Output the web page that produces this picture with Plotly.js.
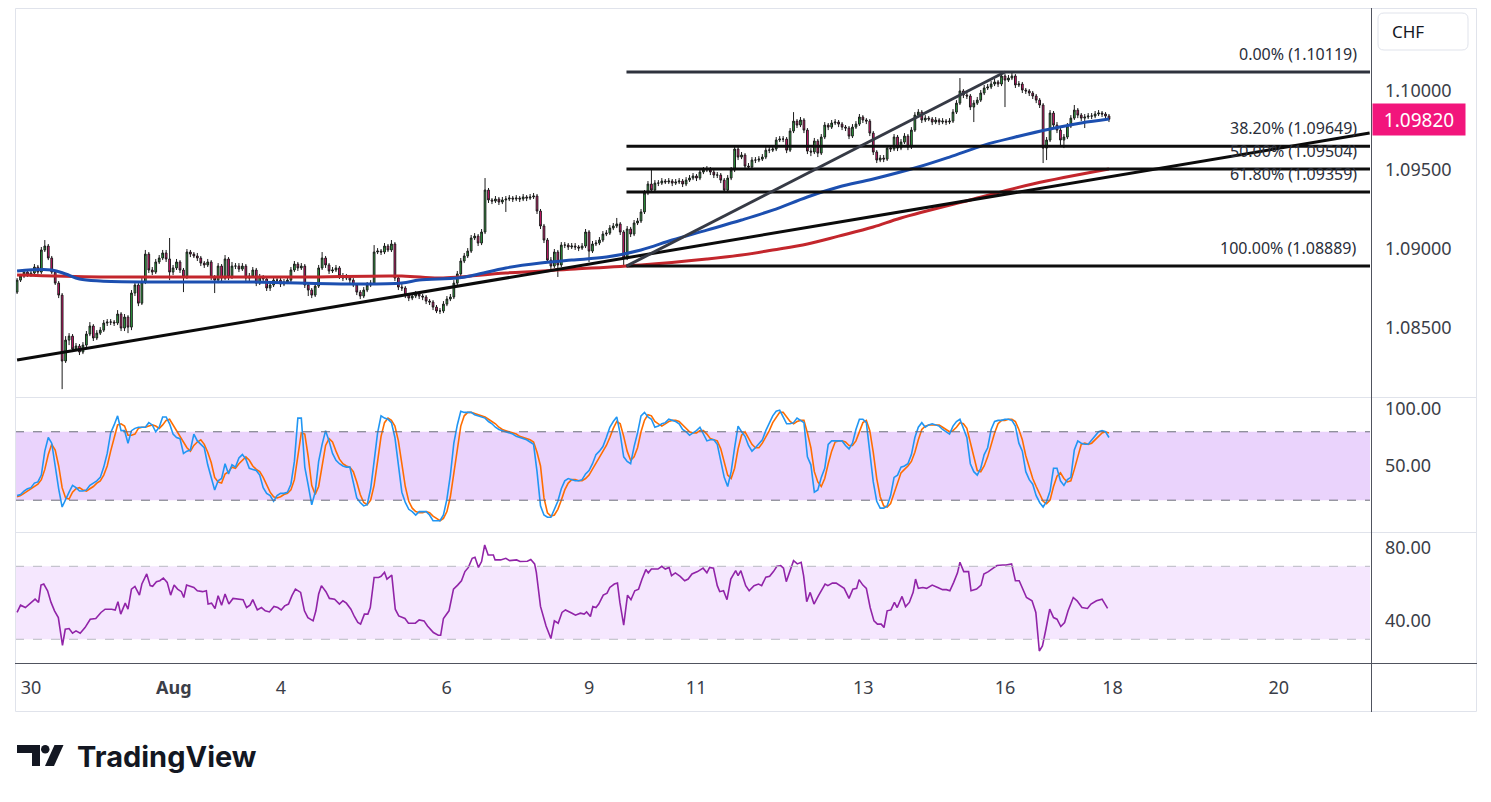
<!DOCTYPE html>
<html><head><meta charset="utf-8">
<script src="https://cdn.plot.ly/plotly-3.0.1.min.js"></script>
<style>html,body{margin:0;padding:0;background:#fff;}#chart{width:1491px;height:802px;}</style>
</head><body><div id="chart"></div>
<script>
// ---------- DATA (hourly candles, bar index 0..315) ----------
const openPx = [
1.08724,1.08800,1.08826,1.08851,1.08832,1.08845,1.08883,1.08851,1.08991,1.09016,
1.08940,1.08851,1.08781,1.08705,1.08287,1.08420,1.08445,1.08363,1.08382,1.08344,
1.08388,1.08458,1.08509,1.08433,1.08464,1.08483,1.08528,1.08534,1.08534,1.08528,
1.08585,1.08496,1.08566,1.08502,1.08718,1.08769,1.08654,1.08788,1.08965,1.08864,
1.08851,1.08915,1.08940,1.08972,1.08934,1.08851,1.08877,1.08915,1.08864,1.08820,
1.08978,1.08965,1.08953,1.08940,1.08908,1.08896,1.08915,1.08820,1.08800,1.08889,
1.08813,1.08934,1.08820,1.08889,1.08889,1.08870,1.08889,1.08813,1.08826,1.08864,
1.08781,1.08820,1.08807,1.08750,1.08769,1.08800,1.08800,1.08775,1.08788,1.08800,
1.08864,1.08902,1.08877,1.08889,1.08769,1.08737,1.08705,1.08762,1.08877,1.08940,
1.08896,1.08858,1.08864,1.08877,1.08826,1.08813,1.08820,1.08800,1.08769,1.08724,
1.08699,1.08737,1.08769,1.08781,1.08978,1.08984,1.08978,1.09016,1.08991,1.09029,
1.08813,1.08756,1.08750,1.08705,1.08686,1.08699,1.08712,1.08699,1.08693,1.08667,
1.08661,1.08629,1.08604,1.08604,1.08648,1.08680,1.08693,1.08781,1.08839,1.08921,
1.08953,1.08984,1.09067,1.09079,1.09035,1.09105,1.09371,1.09308,1.09301,1.09314,
1.09295,1.09308,1.09314,1.09320,1.09314,1.09320,1.09314,1.09327,1.09320,1.09327,
1.09333,1.09238,1.09143,1.09054,1.08927,1.08889,1.08978,1.08896,1.09022,1.09022,
1.09010,1.09016,1.09010,1.09003,1.09016,1.09105,1.08984,1.09029,1.09035,1.09054,
1.09092,1.09098,1.09130,1.09143,1.09156,1.09105,1.08940,1.09124,1.09092,1.09162,
1.09175,1.09232,1.09352,1.09409,1.09371,1.09415,1.09415,1.09428,1.09422,1.09428,
1.09415,1.09422,1.09428,1.09409,1.09434,1.09447,1.09460,1.09447,1.09485,1.09498,
1.09504,1.09485,1.09466,1.09466,1.09434,1.09371,1.09447,1.09498,1.09631,1.09580,
1.09593,1.09523,1.09517,1.09561,1.09561,1.09567,1.09580,1.09624,1.09624,1.09631,
1.09688,1.09694,1.09694,1.09624,1.09745,1.09808,1.09783,1.09815,1.09751,1.09618,
1.09612,1.09682,1.09605,1.09707,1.09783,1.09770,1.09796,1.09802,1.09789,1.09770,
1.09764,1.09713,1.09770,1.09789,1.09834,1.09815,1.09808,1.09732,1.09612,1.09561,
1.09574,1.09567,1.09637,1.09631,1.09707,1.09637,1.09675,1.09713,1.09644,1.09751,
1.09846,1.09865,1.09815,1.09827,1.09821,1.09802,1.09815,1.09802,1.09808,1.09802,
1.09808,1.09865,1.09922,1.09999,1.09973,1.09967,1.09897,1.09922,1.09941,1.09986,
1.10018,1.10024,1.10043,1.10056,1.10043,1.10094,1.10068,1.10081,1.10094,1.10037,
1.10043,1.10005,1.09999,1.09986,1.09967,1.09941,1.09910,1.09637,1.09688,1.09859,
1.09783,1.09751,1.09688,1.09707,1.09777,1.09827,1.09878,1.09846,1.09827,1.09834,
1.09840,1.09840,1.09853,1.09859,1.09853,1.09840];
const highPx = [
1.08813,1.08839,1.08864,1.08864,1.08858,1.08902,1.08896,1.09010,1.09054,1.09029,
1.08953,1.08864,1.08794,1.08718,1.08445,1.08464,1.08458,1.08401,1.08395,1.08407,
1.08477,1.08534,1.08521,1.08483,1.08502,1.08547,1.08553,1.08553,1.08547,1.08610,
1.08597,1.08585,1.08578,1.08737,1.08788,1.08781,1.08813,1.08991,1.08978,1.08883,
1.08934,1.08959,1.08991,1.08991,1.09067,1.08896,1.08934,1.08927,1.08877,1.08997,
1.08991,1.08978,1.08972,1.08953,1.08921,1.08934,1.08927,1.08832,1.08908,1.08902,
1.08959,1.08946,1.08915,1.08908,1.08908,1.08908,1.08902,1.08845,1.08883,1.08877,
1.08839,1.08832,1.08820,1.08788,1.08820,1.08820,1.08813,1.08807,1.08820,1.08883,
1.08921,1.08915,1.08908,1.08902,1.08781,1.08750,1.08781,1.08896,1.08978,1.08953,
1.08908,1.08883,1.08896,1.08889,1.08845,1.08839,1.08832,1.08813,1.08781,1.08737,
1.08756,1.08788,1.08800,1.09022,1.09003,1.08997,1.09035,1.09029,1.09054,1.09041,
1.08826,1.08775,1.08762,1.08718,1.08718,1.08731,1.08724,1.08712,1.08705,1.08680,
1.08673,1.08642,1.08623,1.08667,1.08699,1.08712,1.08800,1.08858,1.08940,1.08972,
1.09003,1.09086,1.09098,1.09092,1.09124,1.09447,1.09384,1.09320,1.09333,1.09327,
1.09327,1.09333,1.09339,1.09333,1.09339,1.09333,1.09346,1.09339,1.09346,1.09352,
1.09346,1.09251,1.09156,1.09067,1.08946,1.08997,1.08991,1.09041,1.09041,1.09035,
1.09035,1.09035,1.09022,1.09035,1.09124,1.09117,1.09048,1.09054,1.09073,1.09111,
1.09117,1.09149,1.09162,1.09194,1.09168,1.09117,1.09143,1.09137,1.09181,1.09194,
1.09251,1.09371,1.09428,1.09498,1.09434,1.09434,1.09447,1.09441,1.09447,1.09441,
1.09441,1.09447,1.09441,1.09453,1.09466,1.09479,1.09472,1.09504,1.09517,1.09523,
1.09517,1.09498,1.09485,1.09479,1.09447,1.09466,1.09517,1.09644,1.09644,1.09612,
1.09605,1.09542,1.09580,1.09580,1.09586,1.09599,1.09644,1.09644,1.09656,1.09707,
1.09713,1.09713,1.09707,1.09764,1.09865,1.09821,1.09834,1.09827,1.09764,1.09637,
1.09701,1.09694,1.09726,1.09802,1.09796,1.09815,1.09821,1.09815,1.09802,1.09783,
1.09777,1.09789,1.09808,1.09853,1.09846,1.09827,1.09821,1.09745,1.09624,1.09593,
1.09593,1.09656,1.09656,1.09726,1.09720,1.09694,1.09732,1.09726,1.09770,1.09865,
1.09884,1.09878,1.09846,1.09840,1.09834,1.09834,1.09827,1.09827,1.09821,1.09827,
1.09884,1.09941,1.10081,1.10011,1.09992,1.09980,1.09941,1.09961,1.10005,1.10037,
1.10043,1.10062,1.10075,1.10068,1.10119,1.10106,1.10100,1.10113,1.10106,1.10062,
1.10056,1.10018,1.10011,1.09999,1.09980,1.09954,1.09922,1.09707,1.09878,1.09872,
1.09802,1.09764,1.09726,1.09796,1.09846,1.09910,1.09891,1.09859,1.09853,1.09859,
1.09859,1.09872,1.09878,1.09872,1.09865,1.09853];
const lowPx = [
1.08712,1.08788,1.08813,1.08820,1.08820,1.08832,1.08839,1.08839,1.08978,1.08927,
1.08839,1.08769,1.08686,1.08109,1.08275,1.08388,1.08344,1.08350,1.08325,1.08331,
1.08376,1.08445,1.08414,1.08420,1.08452,1.08471,1.08509,1.08515,1.08509,1.08515,
1.08477,1.08477,1.08464,1.08483,1.08699,1.08635,1.08642,1.08775,1.08845,1.08832,
1.08839,1.08902,1.08927,1.08915,1.08800,1.08832,1.08864,1.08845,1.08724,1.08807,
1.08946,1.08940,1.08921,1.08889,1.08877,1.08883,1.08800,1.08718,1.08781,1.08794,
1.08800,1.08800,1.08807,1.08870,1.08851,1.08858,1.08794,1.08794,1.08813,1.08762,
1.08769,1.08788,1.08731,1.08731,1.08756,1.08781,1.08756,1.08762,1.08775,1.08788,
1.08851,1.08858,1.08864,1.08750,1.08699,1.08686,1.08693,1.08750,1.08864,1.08877,
1.08839,1.08845,1.08851,1.08807,1.08794,1.08800,1.08781,1.08756,1.08705,1.08680,
1.08686,1.08724,1.08756,1.08769,1.08965,1.08959,1.08965,1.08978,1.08978,1.08794,
1.08737,1.08731,1.08686,1.08667,1.08673,1.08686,1.08680,1.08673,1.08648,1.08642,
1.08610,1.08591,1.08585,1.08591,1.08635,1.08667,1.08680,1.08769,1.08826,1.08908,
1.08940,1.08972,1.09054,1.09016,1.09022,1.09092,1.09289,1.09282,1.09289,1.09276,
1.09282,1.09232,1.09301,1.09295,1.09301,1.09295,1.09301,1.09301,1.09308,1.09314,
1.09219,1.09124,1.09035,1.08908,1.08864,1.08877,1.08820,1.08883,1.09003,1.08991,
1.08997,1.08991,1.08984,1.08991,1.09003,1.08915,1.08972,1.09016,1.09022,1.09041,
1.09079,1.09086,1.09117,1.09130,1.09086,1.08889,1.08927,1.09073,1.09079,1.09149,
1.09162,1.09219,1.09339,1.09358,1.09358,1.09396,1.09403,1.09409,1.09409,1.09396,
1.09403,1.09409,1.09390,1.09396,1.09422,1.09434,1.09428,1.09434,1.09472,1.09485,
1.09466,1.09447,1.09447,1.09415,1.09358,1.09358,1.09434,1.09485,1.09561,1.09567,
1.09504,1.09498,1.09504,1.09542,1.09548,1.09555,1.09567,1.09605,1.09612,1.09618,
1.09675,1.09675,1.09605,1.09612,1.09732,1.09764,1.09770,1.09732,1.09599,1.09586,
1.09599,1.09580,1.09593,1.09694,1.09751,1.09758,1.09783,1.09770,1.09751,1.09745,
1.09694,1.09701,1.09758,1.09777,1.09796,1.09789,1.09713,1.09593,1.09542,1.09548,
1.09548,1.09555,1.09612,1.09618,1.09618,1.09624,1.09663,1.09624,1.09631,1.09739,
1.09834,1.09796,1.09802,1.09808,1.09783,1.09789,1.09783,1.09789,1.09783,1.09789,
1.09796,1.09853,1.09910,1.09954,1.09948,1.09878,1.09802,1.09910,1.09929,1.09973,
1.10005,1.10011,1.10030,1.10024,1.10030,1.09897,1.10056,1.10068,1.10018,1.10024,
1.09986,1.09980,1.09967,1.09948,1.09922,1.09891,1.09542,1.09561,1.09675,1.09764,
1.09732,1.09656,1.09637,1.09694,1.09764,1.09815,1.09827,1.09808,1.09764,1.09821,
1.09821,1.09827,1.09840,1.09834,1.09827,1.09802];
const closePx = [
1.08800,1.08826,1.08851,1.08832,1.08845,1.08883,1.08851,1.08991,1.09016,1.08940,
1.08851,1.08781,1.08705,1.08287,1.08420,1.08445,1.08363,1.08382,1.08344,1.08388,
1.08458,1.08509,1.08433,1.08464,1.08483,1.08528,1.08534,1.08534,1.08528,1.08585,
1.08496,1.08566,1.08502,1.08718,1.08769,1.08654,1.08788,1.08965,1.08864,1.08851,
1.08915,1.08940,1.08972,1.08934,1.08851,1.08877,1.08915,1.08864,1.08820,1.08978,
1.08965,1.08953,1.08940,1.08908,1.08896,1.08915,1.08820,1.08800,1.08889,1.08813,
1.08934,1.08820,1.08889,1.08889,1.08870,1.08889,1.08813,1.08826,1.08864,1.08781,
1.08820,1.08807,1.08750,1.08769,1.08800,1.08800,1.08775,1.08788,1.08800,1.08864,
1.08902,1.08877,1.08889,1.08769,1.08737,1.08705,1.08762,1.08877,1.08940,1.08896,
1.08858,1.08864,1.08877,1.08826,1.08813,1.08820,1.08800,1.08769,1.08724,1.08699,
1.08737,1.08769,1.08781,1.08978,1.08984,1.08978,1.09016,1.08991,1.09029,1.08813,
1.08756,1.08750,1.08705,1.08686,1.08699,1.08712,1.08699,1.08693,1.08667,1.08661,
1.08629,1.08604,1.08604,1.08648,1.08680,1.08693,1.08781,1.08839,1.08921,1.08953,
1.08984,1.09067,1.09079,1.09035,1.09105,1.09371,1.09308,1.09301,1.09314,1.09295,
1.09308,1.09314,1.09320,1.09314,1.09320,1.09314,1.09327,1.09320,1.09327,1.09333,
1.09238,1.09143,1.09054,1.08927,1.08889,1.08978,1.08896,1.09022,1.09022,1.09010,
1.09016,1.09010,1.09003,1.09016,1.09105,1.08984,1.09029,1.09035,1.09054,1.09092,
1.09098,1.09130,1.09143,1.09156,1.09105,1.08940,1.09124,1.09092,1.09162,1.09175,
1.09232,1.09352,1.09409,1.09371,1.09415,1.09415,1.09428,1.09422,1.09428,1.09415,
1.09422,1.09428,1.09409,1.09434,1.09447,1.09460,1.09447,1.09485,1.09498,1.09504,
1.09485,1.09466,1.09466,1.09434,1.09371,1.09447,1.09498,1.09631,1.09580,1.09593,
1.09523,1.09517,1.09561,1.09561,1.09567,1.09580,1.09624,1.09624,1.09631,1.09688,
1.09694,1.09694,1.09624,1.09745,1.09808,1.09783,1.09815,1.09751,1.09618,1.09612,
1.09682,1.09605,1.09707,1.09783,1.09770,1.09796,1.09802,1.09789,1.09770,1.09764,
1.09713,1.09770,1.09789,1.09834,1.09815,1.09808,1.09732,1.09612,1.09561,1.09574,
1.09567,1.09637,1.09631,1.09707,1.09637,1.09675,1.09713,1.09644,1.09751,1.09846,
1.09865,1.09815,1.09827,1.09821,1.09802,1.09815,1.09802,1.09808,1.09802,1.09808,
1.09865,1.09922,1.09999,1.09973,1.09967,1.09897,1.09922,1.09941,1.09986,1.10018,
1.10024,1.10043,1.10056,1.10043,1.10094,1.10068,1.10081,1.10094,1.10037,1.10043,
1.10005,1.09999,1.09986,1.09967,1.09941,1.09910,1.09637,1.09688,1.09859,1.09783,
1.09751,1.09688,1.09707,1.09777,1.09827,1.09878,1.09846,1.09827,1.09834,1.09840,
1.09840,1.09853,1.09859,1.09853,1.09840,1.09820];

// moving averages (sampled at bar index)
const blueMaX = [0,10,14,18,24,39,67,96,111,116,127,132,141,151,160,170,180,189,199,209,218,228,237,247,260,269,279,288,298,307,315];
const blueMaV = [1.08858,1.08864,1.08839,1.08807,1.08794,1.08788,1.08788,1.08775,1.08781,1.08800,1.08813,1.08832,1.08877,1.08908,1.08927,1.08946,1.08991,1.09054,1.09117,1.09181,1.09244,1.09327,1.09390,1.09441,1.09517,1.09580,1.09656,1.09707,1.09758,1.09796,1.09821];
const redMaX = [0,24,53,82,111,122,141,161,180,199,209,218,228,237,247,255,276,293,315];
const redMaV = [1.08832,1.08820,1.08820,1.08820,1.08826,1.08813,1.08845,1.08870,1.08896,1.08934,1.08959,1.08991,1.09029,1.09079,1.09137,1.09194,1.09314,1.09409,1.09504];

// Stochastic RSI %K / %D (per bar)
const stochK = [
24,25,28,30,31,35,36,42,63,75, 70,48,30,14,21,27,33,31,28,28, 29,33,35,37,40,49,61,79,86,94,
81,81,70,81,83,84,84,84,88,86, 80,84,93,93,87,78,75,74,61,63, 64,78,72,69,66,51,41,29,37,39,
52,43,51,49,57,60,56,48,47,46, 42,31,26,24,19,24,26,26,27,34, 54,92,92,49,33,16,27,54,69,81,
72,61,55,52,50,49,49,36,22,18, 15,16,30,54,79,94,92,91,88,75, 52,27,18,12,10,7,10,10,10,7,
2,2,2,7,21,42,70,86,98,97, 97,97,95,94,93,92,89,87,84,82, 81,80,79,78,76,75,74,73,71,69,
45,15,7,5,5,12,19,30,37,39, 38,37,37,38,43,46,52,60,63,67, 75,84,89,93,78,58,54,52,67,79,
94,97,93,91,84,85,87,88,91,90, 89,87,82,80,77,79,81,84,78,72, 73,73,69,54,40,32,45,66,85,80,
76,68,63,66,70,73,81,88,94,98, 99,93,87,87,88,92,90,88,58,51, 27,29,40,48,69,72,72,72,72,68,
65,70,82,91,91,88,63,36,19,13, 13,15,24,40,42,49,50,52,60,75, 84,88,84,86,87,86,85,82,80,78,
85,89,91,82,75,52,45,42,48,60, 66,82,89,90,90,91,91,90,85,70, 63,45,38,34,24,18,14,19,28,48,
48,37,33,38,40,64,72,70,69,69, 73,76,80,81,80,75];
const stochD = [
23,24,26,28,30,32,34,38,47,60, 69,64,50,31,22,21,27,30,31,29, 28,30,32,35,37,42,50,63,75,86,
87,85,77,77,78,83,84,84,85,86, 85,83,86,90,91,86,80,76,70,66, 63,68,71,73,69,62,53,40,36,35,
43,45,49,48,52,55,58,55,50,47, 45,40,33,27,23,22,23,25,26,29, 38,60,79,78,58,33,25,32,50,68,
74,71,63,56,52,50,49,45,36,25, 18,16,20,33,54,76,88,92,90,85, 72,51,32,19,13,10,9,9,10,9,
6,4,2,4,10,23,44,66,85,94, 97,97,96,95,94,93,91,89,87,84, 82,81,80,79,78,76,75,74,73,71,
62,50,22,9,6,7,12,20,29,35, 38,38,37,37,39,42,47,53,58,63, 68,75,83,89,87,76,63,55,58,66,
80,90,95,94,89,87,85,87,89,90, 90,89,86,83,80,79,79,81,81,78, 74,73,72,65,54,42,39,48,65,77,
80,75,69,66,66,70,75,81,88,93, 97,97,93,89,87,89,90,90,79,66, 45,36,32,39,52,63,71,72,72,71,
68,68,72,81,88,90,81,62,39,23, 15,14,17,26,35,44,47,50,54,62, 73,82,85,86,86,86,86,84,82,80,
81,84,88,87,83,70,57,46,45,50, 58,69,79,87,90,90,91,91,89,82, 73,59,49,39,32,25,19,17,20,32,
41,44,39,36,37,47,59,69,70,69, 70,73,76,79,80,79];

// RSI (sampled at bar positions)
const rsiX = [0,1,2.4,3.6,5.2,6.2,6.9,7.7,8.8,9.8,10.8,11.9,12.7,13.1,13.9,15,16,17,18.2,19.6,21.1,22.7,24.2,25.4,27.3,28.3,29.1,29.9,31.2,32,33,34,35.3,36,37.4,38.4,39.1,40.2,41.2,42.2,43.3,44.3,45.3,46.3,47.4,48.1,48.9,50,51,52,53.5,54.6,55.1,56.1,57.1,58,59,60,61.1,62.3,63.8,65.2,66.2,67.2,68,69.3,70.5,71.6,72.8,74.1,75.2,76.2,77.2,78.3,79.3,80.3,81.8,82.9,83.9,85.4,86.2,87,87.8,89.1,90.1,91.6,93,94,95,96.3,97.3,98.3,99.1,100.2,101.2,101.9,103,104.3,105,106,106.7,108.1,109.1,110.1,111.9,112.9,114.9,116,117.4,118.4,120.1,121.5,122.2,123,124.6,125.9,127.1,128.2,129.2,130.2,131.3,132.1,133.1,134,134.9,135.9,137.4,137.9,139.5,141,142.1,144.1,145.1,147.2,148.2,149.3,149.8,151,152.6,154,155,156.1,157.2,158.2,160.1,161.1,162.5,163.6,164.3,165.4,166.1,167,167.8,169.1,170.2,171,172.3,173.2,173.9,175,176.1,177.1,178.2,179.3,180.3,181.4,182.1,183,184.9,186,187,188.1,188.8,189.9,191.3,192.6,193.6,194.7,196.3,197.9,199,199.8,200.9,202,202.7,203.8,204.8,205.9,207.3,208,208.8,210.2,211.2,212.6,213.9,214.8,216,217.1,218.2,219.2,220.3,221.1,221.9,223,224,225.1,226.2,226.9,227.8,228.8,229.9,231.2,233.1,233.9,235.2,236.3,237.4,238.6,240,241.1,242.2,242.9,244,245,246.1,247.2,248.2,249.3,250.1,251,252.1,253.1,253.9,255.3,256.3,257.4,258.5,259.2,260,261.3,262.4,264,265.6,267,268.1,269.1,270.2,271.3,272,273.1,274.5,275.2,276.8,278.1,278.9,280.2,281.6,282.7,284.3,285.3,286.9,288,289.1,290.1,291.2,292.8,293.9,294.9,295.8,296.8,297.9,299,300,301.1,302.2,303.2,304.7,305.8,307.2,308.8,309.8,311.4,313,314.6];
const rsiV = [44.7,48.7,47.4,49.3,52,50.2,59.7,60.3,56.6,50.2,45.6,41.9,30,26.7,35.5,35.9,33.3,34.6,33.3,36.4,41,41.4,44.7,46.5,46.5,46,50.6,43.8,49.8,46.5,57.5,59,54.2,60.3,65.8,59.4,59,61.6,62.1,63.6,61.2,54.2,59.7,57.5,56.1,52.9,59.7,59,58.4,56.6,56.1,56.6,49.3,49.8,46.9,53.9,48.7,54.8,49.3,52.4,52,51.7,47.4,48.7,51.7,46.1,47.4,45.6,45,48,47.4,46.1,48.3,49.3,53.9,57.5,55.7,45.6,41.9,40.1,45.6,54.8,59.4,56.1,52.4,52,49.3,51.1,49.8,46.5,42.5,39.2,38.3,43.8,43.8,47.4,63.9,63.9,64.5,66.7,63,65.2,46.5,42.8,41.4,38.8,38.8,40.6,40.1,37.3,33.7,32.2,32.2,41.4,45.6,57.5,59.7,62.1,67.1,69.4,74.4,75,69.4,72.6,81.7,76.2,76.2,73.5,73.5,74.4,73.1,73.5,72.6,72.8,73.7,71.3,66.7,48,37.3,30.4,40.1,38.8,44.7,46.1,44.3,43.2,44.3,43.8,45,42.5,48,47.4,49.3,54.2,55.3,58.4,60.3,60.8,50.2,37.7,54.2,51.7,56.6,57.5,63,68.2,66.4,68.5,68.5,70,68.5,69.4,64.9,66.4,64.5,62.1,63,65.8,67.1,69,66.4,69.4,69,59.4,56.1,56.6,51.7,63,67.6,64.9,67.6,59.4,56.6,59.4,60.3,59.4,64,64.5,67.1,70,70.4,69,61.6,68.2,73.1,71.3,72.2,64.9,50.6,55.7,49.3,53.9,60.3,59.4,60.8,60.8,59.4,57.9,52.4,57.5,57.9,62.7,59.7,57.9,47.4,40.1,38.3,38.3,36.4,45.6,46.1,50.2,47.4,53.5,47.9,50.2,55.7,63,57.9,58.4,57.9,59.7,58.4,57.2,57.2,56.6,61.2,66.4,72.2,67.1,67.1,56.6,57.5,59.7,65.8,67.1,69,70.4,70.7,70.7,71.3,62.1,62.1,57.5,52.9,51.1,44.7,23.6,26.3,35.5,46.5,41.9,41,37,39.2,45.6,52.9,51.1,47.4,46.9,49.3,51.1,52,46.9];

// Fibonacci retracement and trend lines
const fibLevels = [1.10119, 1.09649, 1.09504, 1.09359, 1.08889];
const fibNames  = ['0.00%', '38.20%', '50.00%', '61.80%', '100.00%'];
const fibStartX = 175.8;
const trendX = [0, 390.2], trendY = [1.08293, 1.09732];
const swingX = [175.8, 285], swingY = [1.08889, 1.10119];

// axis labels
const dayTicks  = [4.0, 45.2, 76.1, 123.9, 165, 195.9, 244.1, 285, 316, 364];
const dayLabels = ['30', '<b>Aug</b>', '4', '6', '9', '11', '13', '16', '18', '20'];
const priceTicks = [1.085, 1.09, 1.095, 1.10];
const stochTicks = [50, 100];
const rsiTicks = [40, 80];
const currency = 'CHF';

// ---------- LAYOUT HELPERS ----------
const PL = 15, PR = 1370, PT = 8, PB = 663;
const fx = p => (p - PL) / (PR - PL);
const fy = p => (PB - p) / (PB - PT);
const XMAX = 390.3;
const FONT = 'Noto Sans, DejaVu Sans, sans-serif';
const bars = closePx.map((_, i) => i);

const traces = [
  {type:'candlestick', x:bars, open:openPx, high:highPx, low:lowPx, close:closePx,
   increasing:{line:{color:'#1b1b1b', width:1}, fillcolor:'#2fb344'},
   decreasing:{line:{color:'#1b1b1b', width:1}, fillcolor:'#f0157a'},
   whiskerwidth:0, hoverinfo:'skip', xaxis:'x', yaxis:'y'},
  {type:'scatter', mode:'lines', x:redMaX, y:redMaV, line:{color:'#c3262c', width:3, shape:'spline'}, hoverinfo:'skip', xaxis:'x', yaxis:'y'},
  {type:'scatter', mode:'lines', x:blueMaX, y:blueMaV, line:{color:'#1c4fb0', width:3, shape:'spline'}, hoverinfo:'skip', xaxis:'x', yaxis:'y'},
  {type:'scatter', mode:'lines', x:bars, y:stochD, line:{color:'#ff6d00', width:1.6}, hoverinfo:'skip', xaxis:'x', yaxis:'y2'},
  {type:'scatter', mode:'lines', x:bars, y:stochK, line:{color:'#2196f3', width:1.6}, hoverinfo:'skip', xaxis:'x', yaxis:'y2'},
  {type:'scatter', mode:'lines', x:rsiX, y:rsiV, line:{color:'#9124a8', width:1.6}, hoverinfo:'skip', xaxis:'x', yaxis:'y3'}
];

const shapes = [];
// oscillator bands
shapes.push({type:'rect', xref:'paper', yref:'y2', x0:0, x1:1, y0:20, y1:80, fillcolor:'#ead3fc', line:{width:0}, layer:'below'});
shapes.push({type:'rect', xref:'paper', yref:'y3', x0:0, x1:1, y0:30, y1:70, fillcolor:'#f5e7fe', line:{width:0}, layer:'below'});
[20, 80].forEach(v => shapes.push({type:'line', xref:'paper', yref:'y2', x0:0, x1:1, y0:v, y1:v, line:{color:'#6a6d78', width:1, dash:'dash'}}));
[30, 70].forEach(v => shapes.push({type:'line', xref:'paper', yref:'y3', x0:0, x1:1, y0:v, y1:v, line:{color:'#b8bac2', width:1, dash:'dash'}}));
// fib lines
fibLevels.forEach((lv, k) => shapes.push({type:'line', xref:'x', yref:'y', x0:fibStartX, x1:XMAX, y0:lv, y1:lv,
  line:{color: k === 0 ? '#2e323d' : '#0d0d0d', width:3}}));
// trend lines
shapes.push({type:'line', xref:'x', yref:'y', x0:trendX[0], x1:trendX[1], y0:trendY[0], y1:trendY[1], line:{color:'#0b0b0b', width:3}});
shapes.push({type:'line', xref:'x', yref:'y', x0:swingX[0], x1:swingX[1], y0:swingY[0], y1:swingY[1], line:{color:'#363a45', width:3}});
// frame / separators
const pline = (x0,y0,x1,y1,c) => ({type:'line', xref:'paper', yref:'paper', x0:fx(x0), y0:fy(y0), x1:fx(x1), y1:fy(y1), line:{color:c, width:1}});
shapes.push({type:'rect', xref:'paper', yref:'paper', x0:fx(15.5), x1:fx(1476.5), y0:fy(711.5), y1:fy(8.5), line:{color:'#e0e3eb', width:1}});
shapes.push(pline(15, 397.5, 1477, 397.5, '#e0e3eb'));
shapes.push(pline(15, 532.5, 1477, 532.5, '#e0e3eb'));
shapes.push(pline(15, 663.5, 1477, 663.5, '#50535e'));
shapes.push(pline(1371.5, 8, 1371.5, 712, '#50535e'));
// CHF box (rounded)
function roundRect(x0, y0, x1, y1, r) {
  const P = (x, y) => fx(x) + ',' + fy(y);
  return 'M' + P(x0 + r, y0) + ' L' + P(x1 - r, y0) + ' Q' + P(x1, y0) + ' ' + P(x1, y0 + r) +
         ' L' + P(x1, y1 - r) + ' Q' + P(x1, y1) + ' ' + P(x1 - r, y1) +
         ' L' + P(x0 + r, y1) + ' Q' + P(x0, y1) + ' ' + P(x0, y1 - r) +
         ' L' + P(x0, y0 + r) + ' Q' + P(x0, y0) + ' ' + P(x0 + r, y0) + ' Z';
}
shapes.push({type:'path', xref:'paper', yref:'paper', path:roundRect(1378, 13, 1468, 50, 6), line:{color:'#e0e3eb', width:1}, fillcolor:'#fff'});
// TradingView logo mark
const poly = pts => 'M' + pts.map(p => fx(p[0]) + ',' + fy(p[1])).join(' L') + ' Z';
shapes.push({type:'path', xref:'paper', yref:'paper', path:poly([[17,745],[40,745],[40,766],[32,766],[32,753],[17,753]]), fillcolor:'#131722', line:{width:0}});
shapes.push({type:'circle', xref:'paper', yref:'paper', x0:fx(41), x1:fx(49.5), y0:fy(753.5), y1:fy(745), fillcolor:'#131722', line:{width:0}});
shapes.push({type:'path', xref:'paper', yref:'paper', path:poly([[45,766],[54,766],[63.5,745],[54.5,745]]), fillcolor:'#131722', line:{width:0}});

const annotations = [];
fibLevels.forEach((lv, k) => annotations.push({xref:'paper', yref:'y', x:fx(1359), y:lv, xanchor:'right', yanchor:'middle', yshift:18,
  text: fibNames[k] + ' (' + lv.toFixed(5) + ')', showarrow:false, font:{family:FONT, size:16, color:'#2a2e39'}}));
const last = closePx[closePx.length - 1];
annotations.push({xref:'paper', yref:'y', x:fx(1372), y:last, xanchor:'left', yanchor:'middle', text:last.toFixed(5),
  showarrow:false, bgcolor:'#f2157c', font:{family:FONT, size:19, color:'#ffffff'}, width:88, height:27, borderpad:2, align:'center'});
annotations.push({xref:'paper', yref:'paper', x:fx(1390), y:fy(32), xanchor:'left', yanchor:'middle', text:currency, showarrow:false,
  font:{family:FONT, size:17, color:'#131722'}});
annotations.push({xref:'paper', yref:'paper', x:fx(75), y:fy(756), xanchor:'left', yanchor:'middle', text:'<b>TradingView</b>', showarrow:false,
  font:{family:'Inter, Lato, sans-serif', size:29, color:'#131722'}});

const axFont = {family:FONT, size:18, color:'#3b3e48'};
const layout = {
  width:1491, height:802,
  margin:{l:PL, r:1491 - PR, t:PT, b:802 - PB},
  paper_bgcolor:'#ffffff', plot_bgcolor:'#ffffff',
  showlegend:false, hovermode:false, dragmode:false,
  xaxis:{domain:[0,1], range:[-0.6, XMAX], anchor:'y3', tickmode:'array', tickvals:dayTicks, ticktext:dayLabels,
         showgrid:false, zeroline:false, showline:false, ticks:'', tickfont:{family:FONT, size:18, color:'#3b3e48'},
         ticklabelstandoff:12, rangeslider:{visible:false}, fixedrange:true},
  yaxis:{domain:[0.40611, 1], range:[1.08059, 1.10525], side:'right', anchor:'x', tickmode:'array', tickvals:priceTicks,
         ticktext:priceTicks.map(v => v.toFixed(5)), showgrid:false, zeroline:false, showline:false, ticks:'',
         tickfont:axFont, ticklabelstandoff:14, fixedrange:true},
  yaxis2:{domain:[0.2, 0.40611], range:[-7.9, 110.5], side:'right', anchor:'x', tickmode:'array', tickvals:stochTicks,
         ticktext:stochTicks.map(v => v.toFixed(2)), showgrid:false, zeroline:false, showline:false, ticks:'',
         tickfont:axFont, ticklabelstandoff:14, fixedrange:true},
  yaxis3:{domain:[0, 0.2], range:[17.0, 88.8], side:'right', anchor:'x', tickmode:'array', tickvals:rsiTicks,
         ticktext:rsiTicks.map(v => v.toFixed(2)), showgrid:false, zeroline:false, showline:false, ticks:'',
         tickfont:axFont, ticklabelstandoff:14, fixedrange:true},
  shapes:shapes, annotations:annotations
};
Plotly.newPlot('chart', traces, layout, {staticPlot:true, displayModeBar:false});
</script>
</body></html>
